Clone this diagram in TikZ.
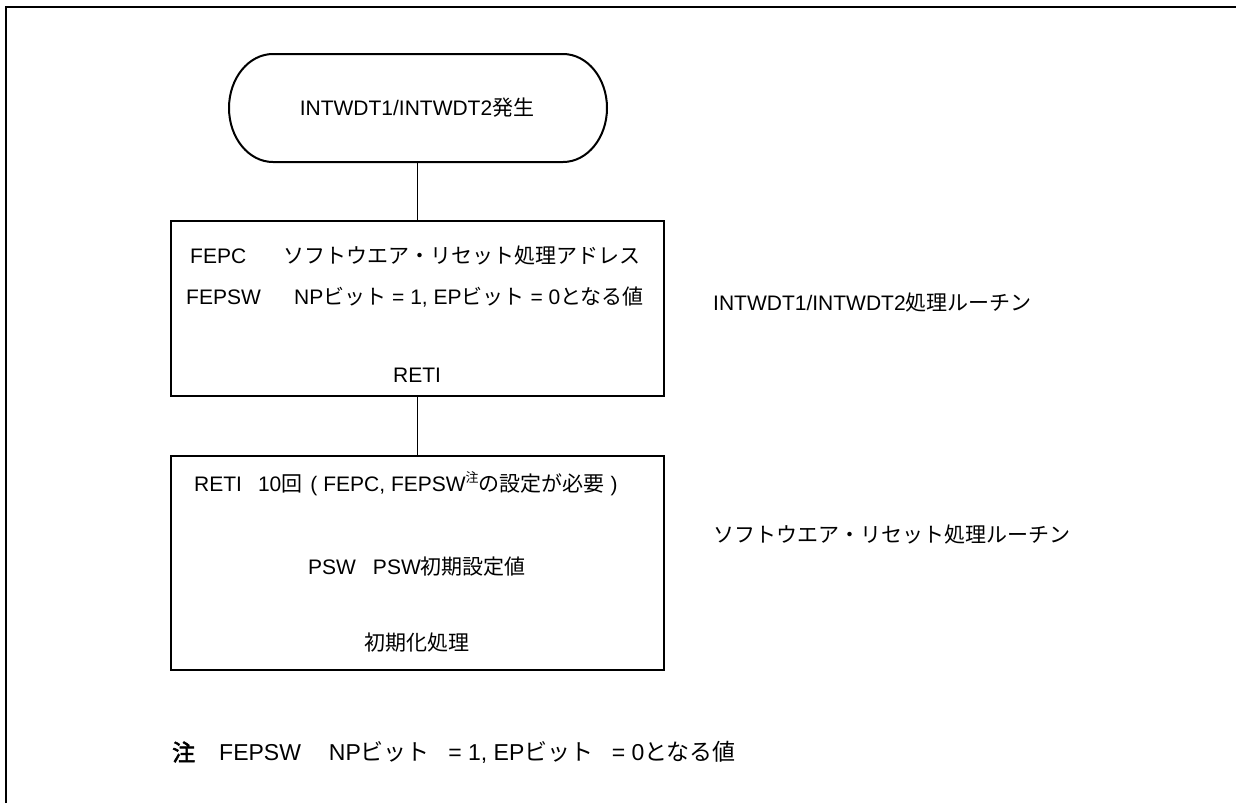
\documentclass[tikz,border=0pt]{standalone}
\usepackage{fontspec}
\setmainfont{Liberation Sans}
\newfontfamily\jp{Noto Sans CJK JP}
\newfontfamily\jpb[FakeBold=2.5]{Noto Sans CJK JP}
\newcommand{\J}[1]{{\jp #1}}
\begin{document}
\begin{tikzpicture}[x=1pt,y=-1pt,
  frame/.style={line width=2pt},
  flowbox/.style={draw, line width=2pt, minimum width=493pt, inner sep=0pt},
  conn/.style={line width=1pt},
  txt/.style={font=\fontsize{21}{25}\selectfont, inner sep=0pt},
  notetxt/.style={font=\fontsize{23}{27}\selectfont, inner sep=0pt}]
\useasboundingbox (0,0) rectangle (1236,803);
% outer frame (top and left only)
\draw[frame] (6,803) -- (6,7) -- (1237,7);

% terminal
\node[txt, minimum width=378pt, minimum height=108pt] (start) at (417,108) {INTWDT1/INTWDT2\J{発生}};
\draw[frame] (273,54) -- (563,54)
  .. controls (587.3,54) and (607,78.2) .. (607,108)
  .. controls (607,137.8) and (587.3,162) .. (563,162)
  -- (273,162)
  .. controls (248.7,162) and (229,137.8) .. (229,108)
  .. controls (229,78.2) and (248.7,54) .. (273,54) -- cycle;

% box 1
\node[flowbox, minimum height=175pt] (box1) at (417,308.5) {};
\node[txt, anchor=west] (fepc) at (190,256) {FEPC};
\node[txt, anchor=west] (fepcv) at (283,256) {\J{ソフトウエア・リセット処理アドレス}};
\node[txt, anchor=west] (fepsw) at (186,297) {FEPSW};
\node[txt, anchor=west] (fepswv) at (294,297) {NP\J{ビット} = 1, EP\J{ビット} = 0\J{となる値}};
\node[txt] (reti) at (417,375) {RETI};

% box 2
\node[flowbox, minimum height=214pt] (box2) at (417,563) {};
\node[txt, anchor=west] (reti10) at (194,484) {RETI\hspace{16pt}10\J{回}\hspace{8pt}(\hspace{6pt}FEPC, FEPSW\raisebox{0.42em}{\fontsize{13}{13}\selectfont\jp 注}\J{の設定が必要}\hspace{6pt})};
\node[txt] (psw) at (417,567) {PSW\hspace{17pt}PSW\J{初期設定値}};
\node[txt] (init) at (417,643) {\J{初期化処理}};

% connectors
\draw[conn] (start.south) -- (box1.north);
\draw[conn] (box1.south) -- (box2.north);

% side labels
\node[txt, anchor=west] (lab1) at (713,303) {INTWDT1/INTWDT2\J{処理ルーチン}};
\node[txt, anchor=west] (lab2) at (713,535) {\J{ソフトウエア・リセット処理ルーチン}};

% note
\node[notetxt, anchor=west] (notemark) at (172,752) {\jpb 注};
\node[notetxt, anchor=west] (note) at (219,752) {FEPSW\hspace{28pt}NP\J{ビット}\hspace{12pt} = 1, EP\J{ビット}\hspace{12pt} = 0\J{となる値}};
\end{tikzpicture}
\end{document}
